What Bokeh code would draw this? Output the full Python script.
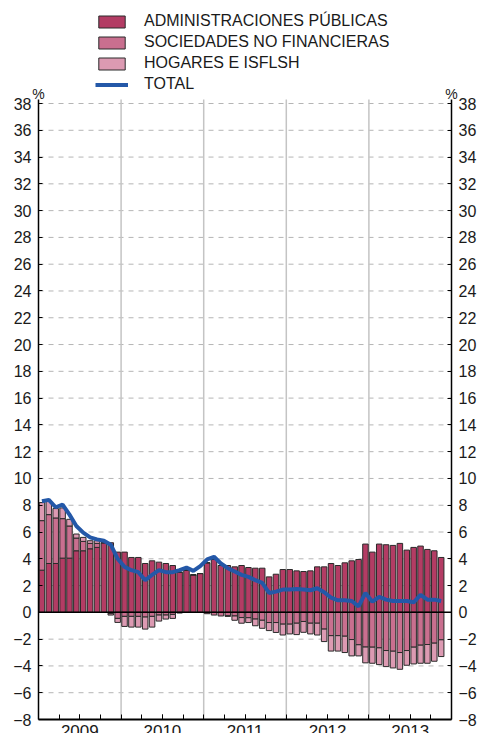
import numpy as np
from bokeh.plotting import figure
from bokeh.models import (ColumnDataSource, FixedTicker, LinearAxis, Legend, LegendItem,
                          Label, Range1d)
from bokeh.embed import file_html
from bokeh.resources import INLINE

years = ["2009", "2010", "2011", "2012", "2013"]
y_ticks = list(range(-8, 39, 2))

aapp = [3.15, 3.65, 3.65, 4.05, 4.05, 4.6, 4.6, 4.75, 4.85, 5.2, 5.2, 4.5,
        4.5, 4.1, 4.1, 3.65, 3.85, 3.75, 3.65, 3.5, 3.0, 3.15, 2.8, 2.9,
        3.7, 3.95, 3.5, 3.5, 3.4, 3.5, 3.35, 3.3, 3.3, 2.65, 2.85, 3.2,
        3.2, 3.1, 3.05, 3.1, 3.4, 3.4, 3.65, 3.5, 3.7, 3.85, 3.95, 5.1,
        4.5, 5.1, 5.05, 5.0, 5.15, 4.65, 4.85, 4.95, 4.7, 4.6, 4.1]
snf = [3.7, 3.65, 3.4, 2.95, 2.4, 0.95, 0.7, 0.4, 0.3, 0.0, -0.1, -0.45,
       -0.3, -0.3, -0.3, -0.35, -0.3, -0.2, -0.2, -0.15, -0.05, 0.0, 0.0, 0.0,
       -0.1, -0.2, -0.27, -0.25, -0.27, -0.39, -0.4, -0.5, -0.59, -0.76, -0.76, -0.88,
       -0.88, -0.81, -0.68, -0.81, -0.81, -1.25, -1.74, -1.74, -1.78, -2.03, -2.42, -2.59,
       -2.6, -2.65, -2.85, -2.9, -3.0, -2.85, -2.6, -2.45, -2.4, -2.3, -2.05]
hog = [1.35, 1.0, 0.7, 0.8, 0.5, 0.3, 0.3, 0.2, 0.2, 0.0, -0.1, -0.3,
       -0.75, -0.8, -0.8, -0.9, -0.8, -0.45, -0.3, -0.3, 0.0, 0.0, 0.0, 0.0,
       0.0, 0.0, 0.0, -0.05, -0.32, -0.42, -0.36, -0.5, -0.6, -0.6, -0.74, -0.81,
       -0.73, -0.85, -0.81, -0.8, -0.88, -0.93, -1.15, -1.15, -1.22, -1.22, -0.83, -1.18,
       -1.2, -1.25, -1.2, -1.25, -1.25, -1.1, -1.25, -1.35, -1.4, -1.35, -1.25]
total = [8.3, 8.4, 7.85, 8.05, 7.3, 6.45, 5.95, 5.6, 5.45, 5.35, 5.05, 4.0,
         3.4, 3.15, 3.0, 2.4, 2.8, 3.15, 3.0, 3.0, 3.15, 3.35, 3.1, 3.45,
         3.95, 4.15, 3.65, 3.3, 3.05, 2.8, 2.65, 2.4, 2.2, 1.45, 1.55, 1.7,
         1.7, 1.75, 1.7, 1.65, 1.8, 1.5, 1.1, 0.9, 0.9, 0.85, 0.45, 1.45,
         0.8, 1.15, 0.95, 0.85, 0.85, 0.85, 0.75, 1.3, 0.95, 0.95, 0.85]

labels = ["ADMINISTRACIONES PÚBLICAS", "SOCIEDADES NO FINANCIERAS", "HOGARES E ISFLSH", "TOTAL"]
colors = ["#b33c64", "#c96f8f", "#dc9ab2"]
line_color = "#2458a8"
FONT = "Liberation Sans"

n = len(aapp)
x = np.arange(n) + 0.5
n_slots = 12 * len(years)
year_bounds = [12 * k for k in range(1, len(years))]
year_centers = [12 * k + 6 for k in range(len(years))]

# stacking: positives upward, negatives downward
pos = np.zeros(n)
neg = np.zeros(n)
stacks = []
for series in (aapp, snf, hog):
    v = np.array(series, dtype=float)
    bottom = np.where(v >= 0, pos, neg + v)
    top = np.where(v >= 0, pos + v, neg)
    pos = pos + np.where(v >= 0, v, 0)
    neg = neg + np.where(v < 0, v, 0)
    stacks.append((bottom, top))

# layout (pixels inside the canvas)
W, H = 477, 733
px_left, px_right = 38, 451          # x = 0 and x = 60
px_top, px_bot = 103, 719            # y = 38 and y = -8
sx = (px_right - px_left) / n_slots
sy = (px_bot - px_top) / (y_ticks[-1] - y_ticks[0])
x_range = Range1d(-px_left / sx, n_slots + (W - px_right) / sx)
y_range = Range1d(y_ticks[0] - (H - px_bot) / sy, y_ticks[-1] + px_top / sy)

p = figure(width=W, height=H, output_backend="svg", toolbar_location=None,
           x_range=x_range, y_range=y_range, x_axis_location=None, y_axis_location=None,
           min_border=0)
p.outline_line_color = None
p.background_fill_color = "white"
p.grid.visible = False

# grid lines limited to the plotting box
gy = [t for t in y_ticks if t not in (y_ticks[0], 0)]
p.segment(x0=[0] * len(gy), x1=[n_slots] * len(gy), y0=gy, y1=gy,
          line_color="#b5b5b5", line_dash="5 5", line_width=1)
p.segment(x0=year_bounds, x1=year_bounds, y0=[y_ticks[0]] * len(year_bounds),
          y1=[y_ticks[-1] + 0.3] * len(year_bounds), line_color="#c4c4c4", line_width=1.5)

renderers = []
for (bottom, top), c in zip(stacks, colors):
    src = ColumnDataSource(dict(x=x, top=top, bottom=bottom))
    r = p.vbar(x="x", top="top", bottom="bottom", width=0.8, source=src,
               fill_color=c, line_color="#2a2a2a", line_width=1)
    renderers.append(r)

p.segment(x0=[0], x1=[n_slots], y0=[0], y1=[0], line_color="black", line_width=1.5)

lr = p.line(x, total, line_color=line_color, line_width=4)
renderers.append(lr)

# x axis fixed at the bottom of the value range
xa = LinearAxis(fixed_location=y_ticks[0], bounds=(0, n_slots))
xa.ticker = FixedTicker(ticks=year_centers, minor_ticks=list(range(3, n_slots, 3)))
xa.major_label_overrides = {c: yname for c, yname in zip(year_centers, years)}
xa.major_label_standoff = 5
xa.major_label_text_font = FONT
xa.major_label_text_font_size = "17px"
xa.major_label_text_color = "#1a1a1a"
xa.major_tick_in = 5
xa.major_tick_out = 0
xa.minor_tick_in = 5
xa.minor_tick_out = 0
xa.axis_line_width = 2
xa.axis_line_color = "black"
xa.major_tick_line_color = "black"
xa.minor_tick_line_color = "black"
p.add_layout(xa, "below")

left = LinearAxis(fixed_location=0, bounds=(y_ticks[0], y_ticks[-1] + 0.3))
right = LinearAxis(fixed_location=n_slots, bounds=(y_ticks[0], y_ticks[-1] + 0.3))
p.add_layout(left, "left")
p.add_layout(right, "right")
for ax, so in ((left, 7), (right, 7)):
    ax.ticker = FixedTicker(ticks=y_ticks)
    ax.major_tick_in = 4
    ax.major_tick_out = 0
    ax.minor_tick_line_color = None
    ax.axis_line_width = 1.5
    ax.axis_line_color = "black"
    ax.major_tick_line_color = "black"
    ax.major_label_text_font = FONT
    ax.major_label_text_font_size = "16px"
    ax.major_label_text_color = "#1a1a1a"
    ax.major_label_standoff = so

# % markers
for xv in (0, n_slots):
    p.add_layout(Label(x=xv, y=y_ticks[-1], text="%", text_align="center", text_baseline="bottom",
                       y_offset=2, text_font=FONT, text_font_size="14px", text_color="#1a1a1a"))

legend = Legend(items=[LegendItem(label=l, renderers=[r]) for l, r in zip(labels, renderers)],
                location=(95, 640), orientation="vertical",
                glyph_width=33, glyph_height=15, label_height=16, spacing=3,
                label_standoff=16, padding=2, margin=0,
                label_text_font=FONT, label_text_font_size="16px", label_text_color="#1a1a1a",
                border_line_color=None, background_fill_alpha=0)
p.add_layout(legend)

open("out.html", "w").write(file_html(p, INLINE))
